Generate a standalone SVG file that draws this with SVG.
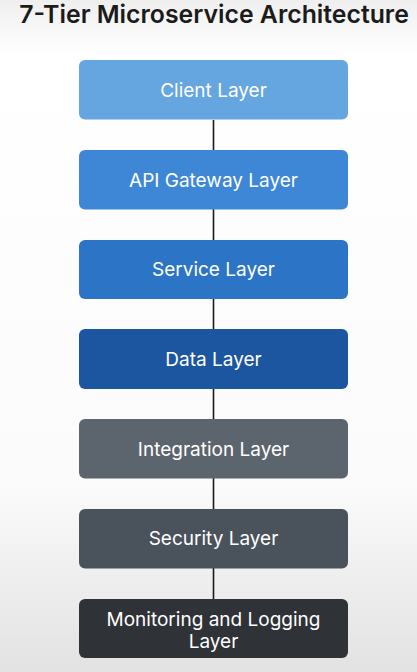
<svg xmlns="http://www.w3.org/2000/svg" width="417" height="672" viewBox="0 0 417 672">
<defs>
<linearGradient id="bg" x1="0" y1="0" x2="0" y2="1">
<stop offset="0" stop-color="#efefef"/>
<stop offset="0.08" stop-color="#ffffff"/>
<stop offset="0.72" stop-color="#fbfbfb"/>
<stop offset="1" stop-color="#e2e2e2"/>
</linearGradient>
<style>
.box{stroke:none}
.lbl{font-family:Inter,"Noto Sans",sans-serif;font-size:19px;fill:#ffffff;text-anchor:middle;font-weight:400}
.title{font-family:Inter,"Noto Sans",sans-serif;font-size:24.8px;font-weight:600;fill:#1b1b1b;text-anchor:middle}
.conn{stroke:#1a1a1a;stroke-width:1.6}
</style>
</defs>
<rect x="0" y="0" width="417" height="672" fill="url(#bg)"/>
<text class="title" x="214" y="23">7-Tier Microservice Architecture</text>
<g id="connectors">
<line class="conn" x1="213.5" y1="120" x2="213.5" y2="150"/>
<line class="conn" x1="213.5" y1="209" x2="213.5" y2="240"/>
<line class="conn" x1="213.5" y1="299" x2="213.5" y2="329"/>
<line class="conn" x1="213.5" y1="389" x2="213.5" y2="419"/>
<line class="conn" x1="213.5" y1="478" x2="213.5" y2="509"/>
<line class="conn" x1="213.5" y1="568" x2="213.5" y2="599"/>
</g>
<g id="client"><rect class="box" x="79" y="60" width="269" height="59.5" rx="6" fill="#65a5e0"/><text class="lbl" x="213.5" y="97">Client Layer</text></g>
<g id="gateway"><rect class="box" x="79" y="150" width="269" height="59.5" rx="6" fill="#3d87d6"/><text class="lbl" x="213.5" y="187">API Gateway Layer</text></g>
<g id="service"><rect class="box" x="79" y="240" width="269" height="59" rx="6" fill="#2c75c6"/><text class="lbl" x="213.5" y="276">Service Layer</text></g>
<g id="data"><rect class="box" x="79" y="329" width="269" height="60" rx="6" fill="#1c56a0"/><text class="lbl" x="213.5" y="366">Data Layer</text></g>
<g id="integration"><rect class="box" x="79" y="419" width="269" height="59.5" rx="6" fill="#5c656e"/><text class="lbl" x="213.5" y="456">Integration Layer</text></g>
<g id="security"><rect class="box" x="79" y="509" width="269" height="59.5" rx="6" fill="#4a525b"/><text class="lbl" x="213.5" y="545">Security Layer</text></g>
<g id="monitoring"><rect class="box" x="79" y="599" width="269" height="59" rx="6" fill="#2f3236"/><text class="lbl" x="213.5" y="626">Monitoring and Logging</text><text class="lbl" x="213.5" y="648">Layer</text></g>
</svg>
